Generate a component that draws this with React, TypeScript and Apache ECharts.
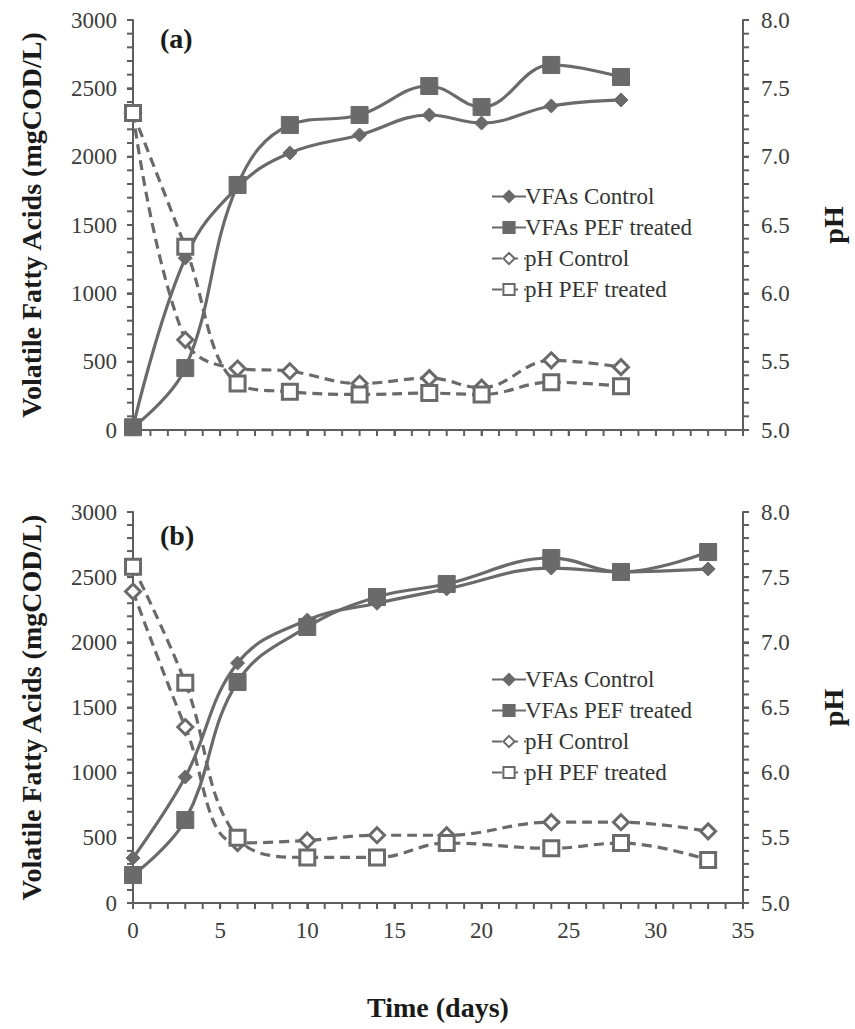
import React, { useEffect, useRef } from "react";
import * as echarts from "echarts";

const daysA = [0, 3, 6, 9, 13, 17, 20, 24, 28];
const vfaControlA = [20, 1258, 1778, 2027, 2159, 2305, 2246, 2371, 2415];
const vfaPefA = [20, 453, 1793, 2232, 2305, 2517, 2363, 2671, 2583];
const phControlA = [7.32, 5.66, 5.45, 5.43, 5.34, 5.38, 5.31, 5.51, 5.46];
const phPefA = [7.32, 6.34, 5.34, 5.28, 5.26, 5.27, 5.26, 5.35, 5.32];

const daysB = [0, 3, 6, 10, 14, 18, 24, 28, 33];
const vfaControlB = [345, 967, 1841, 2171, 2300, 2410, 2570, 2540, 2563];
const vfaPefB = [215, 637, 1696, 2118, 2348, 2448, 2647, 2540, 2693];
const phControlB = [7.39, 6.35, 5.46, 5.48, 5.52, 5.52, 5.62, 5.62, 5.55];
const phPefB = [7.58, 6.69, 5.5, 5.35, 5.35, 5.46, 5.42, 5.46, 5.33];

const seriesNames = ["VFAs Control", "VFAs PEF treated", "pH Control", "pH PEF treated"];
const panelLabels = ["(a)", "(b)"];
const xTitle = "Time (days)";
const yLeftTitle = "Volatile Fatty Acids (mgCOD/L)";
const yRightTitle = "pH";

const xRange = [0, 35];
const vfaRange = [0, 3000];
const phRange = [5, 8];

const FONT = "Liberation Serif";
const GRAY = "#6a6a6a";
const AXIS = "#5e5e5e";
const LABEL = "#3c3c3c";
const TITLE = "#1a1a1a";

function pairs(xs: number[], ys: number[]) {
  return xs.map((x, i) => [x, ys[i]]);
}

function tickValues(min: number, max: number, step: number) {
  const n = Math.round((max - min) / step);
  return Array.from({ length: n + 1 }, (_, i) => +(min + i * step).toFixed(6));
}

export default function App() {
  const ref = useRef<HTMLDivElement>(null);
  useEffect(() => {
    if (!ref.current) return;
    const chart = echarts.init(ref.current, null, { renderer: "svg" });

    const tick = () => ({ show: true, length: 6, lineStyle: { color: AXIS, width: 2 } });
    const line = () => ({ show: true, onZero: false, lineStyle: { color: AXIS, width: 2 } });

    const mkX = (gridIndex: number, showLabels: boolean) => ({
      type: "value",
      gridIndex,
      min: xRange[0],
      max: xRange[1],
      interval: 5,
      name: showLabels ? xTitle : "",
      nameLocation: "middle",
      nameGap: 90,
      nameTextStyle: { fontFamily: FONT, fontSize: 28, fontWeight: "bold", color: TITLE },
      axisLine: line(),
      axisTick: tick(),
      axisLabel: { show: showLabels, margin: 16, fontFamily: FONT, fontSize: 23, color: LABEL },
      splitLine: { show: false },
    });
    const mkYL = (gridIndex: number) => ({
      type: "value",
      gridIndex,
      position: "left",
      min: vfaRange[0],
      max: vfaRange[1],
      interval: 500,
      name: yLeftTitle,
      nameLocation: "middle",
      nameRotate: 90,
      nameGap: 88,
      nameTextStyle: { fontFamily: FONT, fontSize: 28, fontWeight: "bold", color: TITLE },
      axisLine: line(),
      axisTick: tick(),
      axisLabel: {
        margin: 16,
        fontFamily: FONT,
        fontSize: 23,
        color: LABEL,
        formatter: (v: number) => String(v),
      },
      splitLine: { show: false },
    });
    const mkYR = (gridIndex: number) => ({
      type: "value",
      gridIndex,
      position: "right",
      min: phRange[0],
      max: phRange[1],
      interval: 0.5,
      name: yRightTitle,
      nameLocation: "middle",
      nameRotate: 90,
      nameGap: 76,
      nameTextStyle: { fontFamily: FONT, fontSize: 28, fontWeight: "bold", color: TITLE },
      axisLine: line(),
      axisTick: tick(),
      axisLabel: {
        margin: 18,
        fontFamily: FONT,
        fontSize: 23,
        color: LABEL,
        formatter: (v: number) => v.toFixed(1),
      },
      splitLine: { show: false },
    });

    // tick marks drawn through the axes' own scales
    const tickSeries = (
      xi: number,
      yi: number,
      data: number[][],
      dx: number,
      dy: number
    ) => ({
      type: "custom",
      xAxisIndex: xi,
      yAxisIndex: yi,
      silent: true,
      clip: false,
      z: 1,
      data,
      renderItem: (_params: any, api: any) => {
        const p = api.coord([api.value(0), api.value(1)]);
        return {
          type: "line",
          shape: { x1: p[0], y1: p[1], x2: p[0] + dx, y2: p[1] + dy },
          style: { stroke: AXIS, lineWidth: 2 },
        };
      },
    });

    const xTicks = tickValues(xRange[0], xRange[1], 1);
    const vfaTicks = tickValues(vfaRange[0], vfaRange[1], 100);
    const phTicks = tickValues(phRange[0], phRange[1], 0.1);

    const mkTicks = (g: number) => [
      tickSeries(g, g * 2, xTicks.map((v) => [v, vfaRange[0]]), 0, 6),
      tickSeries(g, g * 2, vfaTicks.map((v) => [xRange[0], v]), -6, 0),
      tickSeries(g, g * 2 + 1, phTicks.map((v) => [xRange[1], v]), 6, 0),
    ];

    const mkSeries = (
      xi: number,
      yl: number,
      yr: number,
      days: number[],
      vc: number[],
      vp: number[],
      pc: number[],
      pp: number[]
    ) => [
      {
        name: seriesNames[0],
        type: "line",
        xAxisIndex: xi,
        yAxisIndex: yl,
        smooth: 0.4,
        data: pairs(days, vc),
        symbol: "diamond",
        symbolSize: 14,
        lineStyle: { color: GRAY, width: 3.2 },
        itemStyle: { color: GRAY, borderColor: GRAY, borderWidth: 1 },
        z: 3,
      },
      {
        name: seriesNames[1],
        type: "line",
        xAxisIndex: xi,
        yAxisIndex: yl,
        smooth: 0.4,
        data: pairs(days, vp),
        symbol: "rect",
        symbolSize: 17,
        lineStyle: { color: GRAY, width: 3.2 },
        itemStyle: { color: GRAY, borderColor: GRAY, borderWidth: 1 },
        z: 3,
      },
      {
        name: seriesNames[2],
        type: "line",
        xAxisIndex: xi,
        yAxisIndex: yr,
        smooth: 0.4,
        data: pairs(days, pc),
        symbol: "diamond",
        symbolSize: 15,
        lineStyle: { color: GRAY, width: 3.2, type: [10, 6] },
        itemStyle: { color: "#ffffff", borderColor: GRAY, borderWidth: 3 },
        z: 4,
      },
      {
        name: seriesNames[3],
        type: "line",
        xAxisIndex: xi,
        yAxisIndex: yr,
        smooth: 0.4,
        data: pairs(days, pp),
        symbol: "rect",
        symbolSize: 15,
        lineStyle: { color: GRAY, width: 3.2, type: [10, 6] },
        itemStyle: { color: "#ffffff", borderColor: GRAY, borderWidth: 3 },
        z: 4,
      },
    ];

    const mkLegend = (top: number) => ({
      orient: "vertical",
      left: 486,
      top,
      itemGap: 8,
      itemWidth: 34,
      itemHeight: 14,
      data: seriesNames,
      textStyle: { fontFamily: FONT, fontSize: 23, color: "#333333", padding: [0, 0, 0, -6] },
      selectedMode: false,
    });

    chart.setOption({
      animation: false,
      backgroundColor: "#ffffff",
      grid: [
        { left: 133, right: 107, top: 20, height: 410 },
        { left: 133, right: 107, top: 512, height: 391 },
      ],
      xAxis: [mkX(0, false), mkX(1, true)],
      yAxis: [mkYL(0), mkYR(0), mkYL(1), mkYR(1)],
      legend: [mkLegend(180), mkLegend(663)],
      graphic: [
        {
          type: "text",
          left: 160,
          top: 24,
          style: { text: panelLabels[0], font: `bold 28px "${FONT}"`, fill: TITLE },
        },
        {
          type: "text",
          left: 160,
          top: 521,
          style: { text: panelLabels[1], font: `bold 28px "${FONT}"`, fill: TITLE },
        },
      ],
      series: [
        ...mkTicks(0),
        ...mkTicks(1),
        ...mkSeries(0, 0, 1, daysA, vfaControlA, vfaPefA, phControlA, phPefA),
        ...mkSeries(1, 2, 3, daysB, vfaControlB, vfaPefB, phControlB, phPefB),
      ],
    });
    return () => chart.dispose();
  }, []);
  return (
    <div
      ref={ref}
      style={{ position: "absolute", left: 0, top: 0, width: 855, height: 1029, background: "#fff" }}
    />
  );
}
